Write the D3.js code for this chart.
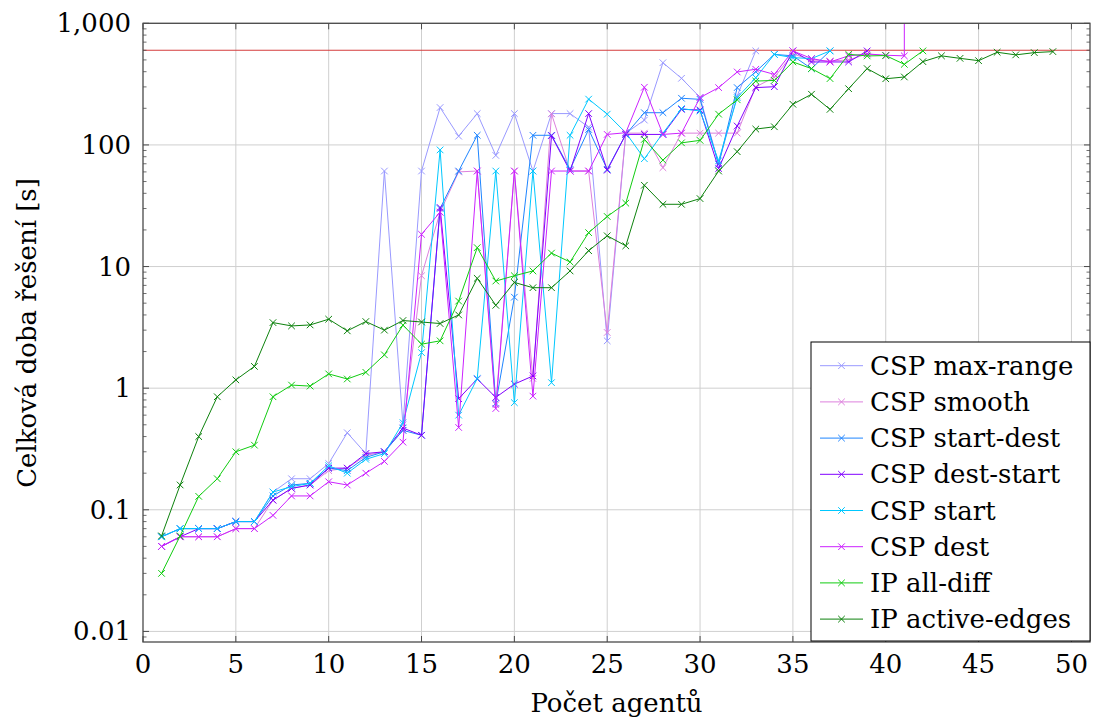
<!DOCTYPE html>
<html>
<head>
<meta charset="utf-8">
<script src="https://cdn.jsdelivr.net/npm/d3@7"></script>
<style>
  body { margin: 0; background: #fff; }
</style>
</head>
<body>
<svg id="chart" width="1098" height="724"></svg>
<script>
// Number of agents (x) and total solving time in seconds (y) per solver
const agents = d3.range(1, 50);

const maxRange = [0.06, 0.07, 0.07, 0.07, 0.08, 0.08, 0.14, 0.18, 0.18, 0.24,
  0.43, 0.29, 61, 0.5, 61, 203, 118, 181, 82, 181,
  61, 181, 181, 140, 2.45, 125, 160, 474, 353, 246,
  70, 253, 593];

const smooth = [0.05, 0.06, 0.06, 0.06, 0.07, 0.07, 0.12, 0.15, 0.16, 0.21,
  0.22, 0.28, 0.30, 0.45, 8.4, 28, 60, 61, 0.73, 61,
  1.2, 180, 61, 61, 2.87, 125, 125, 65, 125, 125,
  125, 125, 300, 360, 560, 500, 490, 500, 560, 540];

const startDest = [0.06, 0.07, 0.07, 0.07, 0.08, 0.08, 0.13, 0.16, 0.165, 0.22,
  0.21, 0.27, 0.30, 0.45, 0.41, 30, 61, 120, 0.75, 5.6,
  120, 120, 63, 134, 63, 122, 184, 184, 242, 237,
  69, 296, 400, 555, 540, 424, 593];

const destStart = [0.05, 0.06, 0.07, 0.07, 0.08, 0.08, 0.12, 0.15, 0.16, 0.22,
  0.22, 0.29, 0.30, 0.47, 0.41, 30.6, 0.82, 1.19, 0.84, 1.08,
  1.26, 119, 61, 181, 62, 122, 122, 122, 196, 194,
  64, 143, 296, 301, 593, 481, 481, 481, 593];

const start = [0.06, 0.07, 0.07, 0.07, 0.08, 0.08, 0.14, 0.155, 0.165, 0.23,
  0.20, 0.26, 0.29, 0.52, 1.96, 91, 0.60, 1.2, 61, 0.76,
  61, 1.11, 120, 238, 179, 126, 77, 125, 199, 190,
  74, 245, 357, 555, 522, 513, 593];

const dest = [0.05, 0.06, 0.06, 0.06, 0.07, 0.07, 0.09, 0.13, 0.13, 0.17,
  0.16, 0.20, 0.25, 0.36, 18.4, 28, 0.475, 61, 0.68, 61,
  0.86, 61, 61, 61, 122, 126, 298, 122, 125, 245,
  296, 398, 419, 380, 593, 513, 481, 540, 560, 546,
  540];
// last CSP dest run at 41 agents exceeded the axis range
const destOverflow = { agent: 41, time: 2000 };

const allDiff = [0.030, 0.061, 0.129, 0.18, 0.30, 0.34, 0.85, 1.06, 1.04, 1.31,
  1.19, 1.35, 1.88, 3.3, 2.3, 2.45, 5.2, 14.3, 7.6, 8.4,
  9.2, 12.9, 10.9, 19, 25.8, 33.2, 111, 75, 104, 109,
  179, 235, 335, 339, 481, 424, 351, 556, 539, 543,
  460, 593];

const activeEdges = [0.061, 0.16, 0.40, 0.85, 1.17, 1.51, 3.46, 3.25, 3.31, 3.69,
  2.96, 3.53, 3.0, 3.6, 3.5, 3.4, 4.0, 8.0, 4.8, 7.4,
  6.7, 6.7, 9.2, 13.5, 17.9, 14.8, 46.6, 32.5, 32.5, 36.2,
  61, 88, 135, 141, 216, 261, 196, 290, 424, 350,
  362, 484, 540, 515, 493, 578, 550, 574, 585];

const timeLimit = 600;

const xTicks = [0, 5, 10, 15, 20, 25, 30, 35, 40, 45, 50];
const yTicks = [0.01, 0.1, 1, 10, 100, 1000];
const yTickLabels = ["0.01", "0.1", "1", "10", "100", "1,000"];

const seriesNames = ["CSP max-range", "CSP smooth", "CSP start-dest", "CSP dest-start",
  "CSP start", "CSP dest", "IP all-diff", "IP active-edges"];
const seriesColors = ["#9999ff", "#dd80dd", "#1f85ff", "#8000ff",
  "#00c8ff", "#cc22ff", "#11cc11", "#0d820d"];

const toPoints = (vals) => vals.map((v, i) => [agents[i], v]);
const seriesData = [
  toPoints(maxRange),
  toPoints(smooth),
  toPoints(startDest),
  toPoints(destStart),
  toPoints(start),
  toPoints(dest).concat([[destOverflow.agent, destOverflow.time]]),
  toPoints(allDiff),
  toPoints(activeEdges)
];

// ---- layout ----
const plotL = 143, plotR = 1090, plotT = 23.3, plotB = 642;
const x = d3.scaleLinear().domain([0, 51]).range([plotL, plotR]);
const y = d3.scaleLog().domain([Math.pow(10, -2.087), 1000]).range([plotB, plotT]);
const serifFont = "'DejaVu Serif', 'Liberation Serif', 'Noto Serif', 'Times New Roman', Times, serif";

const svg = d3.select("#chart");

svg.append("defs").append("clipPath").attr("id", "plot-clip")
  .append("rect").attr("x", plotL).attr("y", plotT)
  .attr("width", plotR - plotL).attr("height", plotB - plotT);

// grid
const grid = svg.append("g").attr("stroke", "#cfcfcf").attr("stroke-width", 1);
grid.selectAll("line.gx").data(xTicks.slice(1)).join("line")
  .attr("class", "gx")
  .attr("x1", d => x(d)).attr("x2", d => x(d))
  .attr("y1", plotT).attr("y2", plotB);
grid.selectAll("line.gy").data(yTicks).join("line")
  .attr("class", "gy")
  .attr("x1", plotL).attr("x2", plotR)
  .attr("y1", d => y(d)).attr("y2", d => y(d));

// data
const plot = svg.append("g").attr("clip-path", "url(#plot-clip)");

plot.append("line")
  .attr("x1", plotL).attr("x2", plotR)
  .attr("y1", y(timeLimit)).attr("y2", y(timeLimit))
  .attr("stroke", "#d43c3c").attr("stroke-width", 1.1);

const line = d3.line().x(d => x(d[0])).y(d => y(d[1]));
const ms = 3.3;
const crossPath = (cx, cy) =>
  `M${cx - ms},${cy - ms}L${cx + ms},${cy + ms}M${cx - ms},${cy + ms}L${cx + ms},${cy - ms}`;

seriesData.forEach((pts, i) => {
  const g = plot.append("g");
  g.append("path").datum(pts)
    .attr("d", line)
    .attr("fill", "none")
    .attr("stroke", seriesColors[i])
    .attr("stroke-width", 1)
    .attr("stroke-linejoin", "round");
  g.selectAll("path.mark").data(pts).join("path")
    .attr("class", "mark")
    .attr("d", d => crossPath(x(d[0]), y(d[1])))
    .attr("stroke", seriesColors[i])
    .attr("stroke-width", 1);
});

// axis frame and ticks
const axis = svg.append("g").attr("stroke", "#4a4a4a");
axis.append("rect").attr("x", plotL).attr("y", plotT)
  .attr("width", plotR - plotL).attr("height", plotB - plotT)
  .attr("fill", "none").attr("stroke-width", 1.3);

const majorLen = 6, minorLen = 3.5;
xTicks.forEach(t => {
  axis.append("line").attr("x1", x(t)).attr("x2", x(t))
    .attr("y1", plotB).attr("y2", plotB - majorLen).attr("stroke-width", 1);
  axis.append("line").attr("x1", x(t)).attr("x2", x(t))
    .attr("y1", plotT).attr("y2", plotT + majorLen).attr("stroke-width", 1);
});
const yMinor = [];
[0.001, 0.01, 0.1, 1, 10, 100].forEach(dec => d3.range(2, 10).forEach(k => yMinor.push(dec * k)));
yTicks.forEach(t => {
  axis.append("line").attr("x1", plotL).attr("x2", plotL + majorLen)
    .attr("y1", y(t)).attr("y2", y(t)).attr("stroke-width", 1);
  axis.append("line").attr("x1", plotR).attr("x2", plotR - majorLen)
    .attr("y1", y(t)).attr("y2", y(t)).attr("stroke-width", 1);
});
yMinor.filter(t => y(t) <= plotB && y(t) >= plotT).forEach(t => {
  axis.append("line").attr("x1", plotL).attr("x2", plotL + minorLen)
    .attr("y1", y(t)).attr("y2", y(t)).attr("stroke-width", 0.8);
  axis.append("line").attr("x1", plotR).attr("x2", plotR - minorLen)
    .attr("y1", y(t)).attr("y2", y(t)).attr("stroke-width", 0.8);
});

// text layer
const texts = svg.append("g").style("font-family", serifFont).attr("fill", "#000");
const fs = 26;
texts.append("g").selectAll("text").data(xTicks).join("text")
  .attr("x", d => x(d)).attr("y", 673)
  .attr("text-anchor", "middle").style("font-size", fs + "px")
  .text(d => d);
texts.append("g").selectAll("text").data(yTicks).join("text")
  .attr("x", 131).attr("y", d => y(d) + 9)
  .attr("text-anchor", "end").style("font-size", fs + "px")
  .text((d, i) => yTickLabels[i]);

// axis titles
texts.append("text").attr("x", (plotL + plotR) / 2).attr("y", 712)
  .attr("text-anchor", "middle").style("font-size", fs + "px")
  .text("Počet agentů");
texts.append("text")
  .attr("transform", "translate(36,333) rotate(-90)")
  .attr("text-anchor", "middle").style("font-size", fs + "px")
  .text("Celková doba řešení [s]");

// legend
const lg = svg.append("g");
lg.append("rect").attr("x", 811).attr("y", 342)
  .attr("width", plotR - 811).attr("height", 299)
  .attr("fill", "#fff").attr("stroke", "#000").attr("stroke-width", 1);
seriesNames.forEach((name, i) => {
  const cy = 365.7 + i * 36.2;
  lg.append("line").attr("x1", 820).attr("x2", 863)
    .attr("y1", cy).attr("y2", cy)
    .attr("stroke", seriesColors[i]).attr("stroke-width", 1);
  lg.append("path").attr("d", crossPath(841.5, cy))
    .attr("stroke", seriesColors[i]).attr("stroke-width", 1);
  lg.append("text").attr("x", 870).attr("y", cy + 9)
    .style("font-family", serifFont).style("font-size", fs + "px")
    .text(name);
});
</script>
</body>
</html>
